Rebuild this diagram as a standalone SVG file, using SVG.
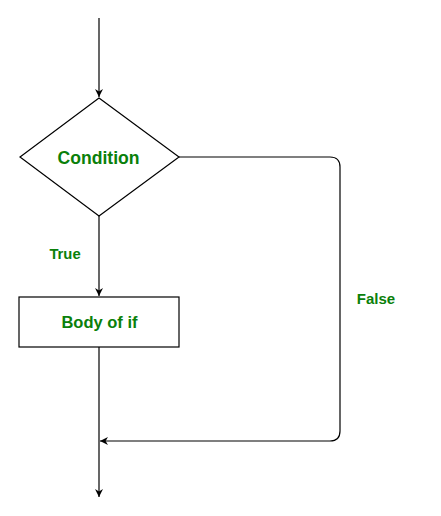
<svg xmlns="http://www.w3.org/2000/svg" width="441" height="516" viewBox="0 0 441 516">
<style>
.shape{fill:#fff;stroke:#000;stroke-width:1.2}
.edge{fill:none;stroke:#000;stroke-width:1.2}
.lbl{font-family:"Liberation Sans",Arial,sans-serif;font-weight:bold;fill:#0a800a}
</style>
<defs>
<marker id="arr" viewBox="0 0 10 10" refX="10" refY="5" markerWidth="8" markerHeight="8" markerUnits="userSpaceOnUse" orient="auto">
<path d="M0,0 L10,5 L0,10 L3,5 Z" fill="#000"/>
</marker>
</defs>
<rect width="441" height="516" fill="#fff"/>
<g id="connectors">
<path class="edge" d="M99,18 L99,97" marker-end="url(#arr)"/>
<path class="edge" d="M99,216 L99,296" marker-end="url(#arr)"/>
<path class="edge" d="M99,347 L99,497" marker-end="url(#arr)"/>
<path class="edge" d="M179,157 L330,157 Q340,157 340,167 L340,431 Q340,441 330,441 L100,441" marker-end="url(#arr)"/>
</g>
<g id="condition">
<polygon class="shape" points="99,98 179,157 99,216 20,157"/>
<text class="lbl" x="98.5" y="164" text-anchor="middle" font-size="17.6">Condition</text>
</g>
<g id="body">
<rect class="shape" x="19" y="297" width="160" height="50"/>
<text class="lbl" x="99.5" y="328" text-anchor="middle" font-size="16.5">Body of if</text>
</g>
<g id="labels">
<text class="lbl" x="65" y="259" text-anchor="middle" font-size="14.8">True</text>
<text class="lbl" x="376" y="304" text-anchor="middle" font-size="15">False</text>
</g>
</svg>
